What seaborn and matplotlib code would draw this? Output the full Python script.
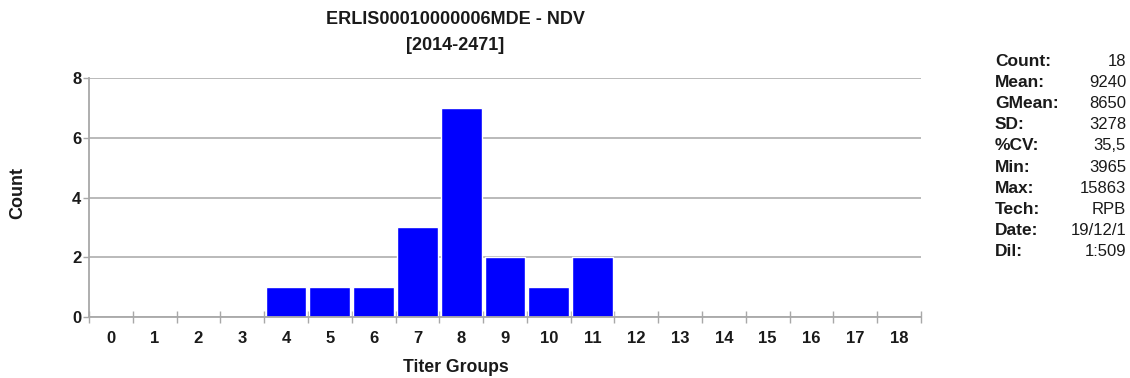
import matplotlib
matplotlib.use("Agg")
import matplotlib.pyplot as plt
import seaborn as sns
import pandas as pd
from matplotlib.ticker import FixedLocator

groups = [str(i) for i in range(19)]
counts = [0, 0, 0, 0, 1, 1, 1, 3, 7, 2, 1, 2, 0, 0, 0, 0, 0, 0, 0]
stat_labels = ["Count:", "Mean:", "GMean:", "SD:", "%CV:", "Min:", "Max:", "Tech:", "Date:", "Dil:"]
stat_values = ["18", "9240", "8650", "3278", "35,5", "3965", "15863", "RPB", "19/12/1", "1:509"]

sns.set_theme(style="white")
plt.rcParams["font.family"] = ["Liberation Sans", "DejaVu Sans"]

W, H = 1130, 378
fig = plt.figure(figsize=(W / 100, H / 100), dpi=100)
L, R, T, B = 89, 921, 78, 317
ax = fig.add_axes([L / W, 1 - B / H, (R - L) / W, (B - T) / H])

df = pd.DataFrame({"group": groups, "count": counts})
sns.barplot(data=df, x="group", y="count", color="#0000FF", saturation=1,
            width=0.93, ax=ax, order=groups)

ax.set_xlim(-0.5, 18.5)
ax.set_ylim(0, 8)
ax.set_yticks([0, 2, 4, 6, 8])
ax.yaxis.grid(True, color="#b4b4b4", linewidth=1.3)
ax.set_axisbelow(True)
for s in ["top", "right"]:
    ax.spines[s].set_visible(False)
for s in ["left", "bottom"]:
    ax.spines[s].set_color("#a8a8a8")
    ax.spines[s].set_linewidth(1.3)

ax.tick_params(axis="y", which="major", left=True, length=4.5, color="#a8a8a8",
               width=1, labelsize=12, pad=1)
ax.tick_params(axis="x", which="major", bottom=True, length=0, labelsize=12, pad=10)
ax.xaxis.set_minor_locator(FixedLocator([i + 0.5 for i in range(-1, 19)]))
ax.tick_params(axis="x", which="minor", bottom=True, length=8, color="#a8a8a8",
               width=1, direction="inout")
for lab in ax.get_xticklabels() + ax.get_yticklabels():
    lab.set_fontweight("bold")
    lab.set_color("#1a1a1a")

ax.set_xlabel("")
ax.set_ylabel("")

fig.text(456 / W, 1 - 368 / H, "Titer Groups", ha="center", va="center",
         fontsize=12.7, fontweight="bold", color="#1a1a1a")
fig.text(18 / W, 1 - 193 / H, "Count", ha="center", va="center", rotation=90,
         fontsize=13, fontweight="bold", color="#1a1a1a")

fig.text(455 / W, 1 - 20 / H, "ERLIS00010000006MDE - NDV", ha="center", va="center",
         fontsize=13, fontweight="bold", color="#1a1a1a")
fig.text(455 / W, 1 - 45 / H, "[2014-2471]", ha="center", va="center",
         fontsize=13, fontweight="bold", color="#1a1a1a")

y0 = 61
dy = 21.2
for i, (l, v) in enumerate(zip(stat_labels, stat_values)):
    y = 1 - (y0 + i * dy) / H
    fig.text(995 / W, y, l, ha="left", va="center", fontsize=12.5,
             fontweight="bold", color="#1a1a1a")
    fig.text(1126 / W, y, v, ha="right", va="center", fontsize=12,
             color="#1a1a1a")

fig.savefig("out.png", dpi=100)
